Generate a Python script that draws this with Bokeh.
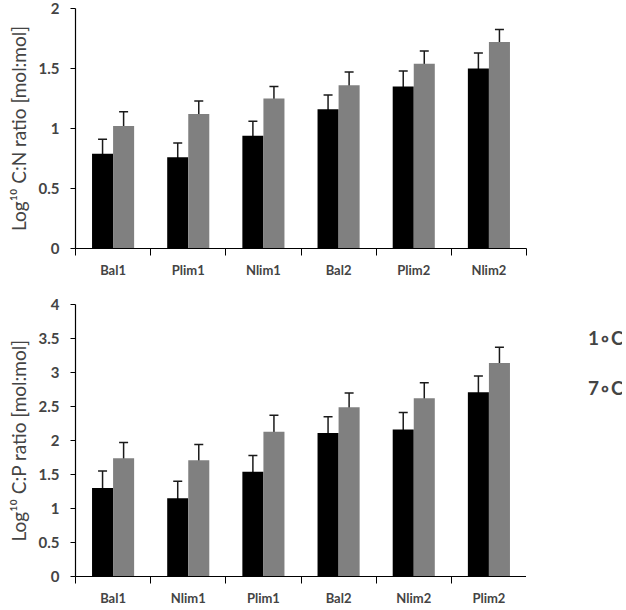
import numpy as np
from bokeh.plotting import figure
from bokeh.models import (ColumnDataSource, Range1d, FixedTicker, SingleIntervalTicker,
                          CustomJSTickFormatter, Whisker, TeeHead, Legend, LegendItem)
from bokeh.layouts import column, row
from bokeh.embed import file_html
from bokeh.resources import INLINE

# ---- data ----
cn_groups = ["Bal1", "Plim1", "Nlim1", "Bal2", "Plim2", "Nlim2"]
cn_1c = [0.79, 0.76, 0.94, 1.16, 1.35, 1.50]
cn_7c = [1.02, 1.12, 1.25, 1.36, 1.54, 1.72]
cn_err_1c = [0.12, 0.12, 0.12, 0.12, 0.13, 0.13]
cn_err_7c = [0.12, 0.11, 0.10, 0.11, 0.105, 0.105]

cp_groups = ["Bal1", "Nlim1", "Plim1", "Bal2", "Nlim2", "Plim2"]
cp_1c = [1.30, 1.15, 1.54, 2.11, 2.16, 2.71]
cp_7c = [1.74, 1.71, 2.13, 2.49, 2.62, 3.14]
cp_err_1c = [0.25, 0.25, 0.24, 0.24, 0.25, 0.24]
cp_err_7c = [0.23, 0.23, 0.24, 0.21, 0.23, 0.23]

series_labels = ["1\u2218C", "7\u2218C"]

FONT = "Lato"
C1 = "#000000"
C7 = "#808080"
ERR = "#1a1a1a"


def make_panel(groups, v1, v7, e1, e7, ymax, ylabel, width, height, right_b, top_b, bottom_b):
    n = len(groups)
    pos = np.arange(n) + 0.5
    v1 = np.array(v1); v7 = np.array(v7); e1 = np.array(e1); e7 = np.array(e7)
    src = ColumnDataSource(dict(
        x1=pos - 0.14, x7=pos + 0.14, v1=v1, v7=v7,
        lo1=v1 - e1, hi1=v1 + e1, lo7=v7 - e7, hi7=v7 + e7))

    p = figure(width=width, height=height, x_range=Range1d(0, n), y_range=Range1d(0, ymax),
               output_backend="svg", toolbar_location=None,
               min_border_left=75, min_border_right=right_b,
               min_border_top=top_b, min_border_bottom=bottom_b)
    p.outline_line_color = None
    p.xgrid.visible = False
    p.ygrid.visible = False

    p.vbar(x="x1", top="v1", width=0.28, bottom=0, source=src, fill_color=C1, line_color=None)
    p.vbar(x="x7", top="v7", width=0.28, bottom=0, source=src, fill_color=C7, line_color=None)

    for xb, lo, hi in (("x1", "lo1", "hi1"), ("x7", "lo7", "hi7")):
        p.add_layout(Whisker(base=xb, lower=lo, upper=hi, source=src,
                             line_color=ERR, line_width=1.5,
                             upper_head=TeeHead(size=9, line_color=ERR, line_width=1.5),
                             lower_head=TeeHead(size=9, line_color=ERR, line_width=1.5)))

    xa = p.xaxis[0]
    xa.ticker = FixedTicker(ticks=list(pos), minor_ticks=list(range(n + 1)))
    xa.formatter = CustomJSTickFormatter(args=dict(labels=groups),
                                         code="const i = Math.round(tick - 0.5); return labels[i] || '';")
    xa.major_tick_out = 0
    xa.major_tick_in = 0
    xa.major_tick_line_color = None
    xa.minor_tick_line_color = "black"
    xa.minor_tick_out = 7
    xa.minor_tick_in = 0
    xa.axis_line_color = "black"
    xa.axis_line_width = 1.2
    xa.major_label_standoff = 6
    xa.major_label_text_font = FONT
    xa.major_label_text_font_style = "bold"
    xa.major_label_text_font_size = "13px"

    ya = p.yaxis[0]
    ya.ticker = SingleIntervalTicker(interval=0.5, num_minor_ticks=0)
    ya.formatter = CustomJSTickFormatter(code="return String(+tick.toFixed(2));")
    ya.minor_tick_line_color = None
    ya.major_tick_out = 5
    ya.major_tick_in = 0
    ya.axis_line_color = "black"
    ya.axis_line_width = 1.2
    ya.major_label_standoff = 11
    ya.major_label_text_font = FONT
    ya.major_label_text_font_style = "bold"
    ya.major_label_text_font_size = "15px"
    ya.axis_label = ylabel
    ya.axis_label_text_font = FONT
    ya.axis_label_text_font_style = "normal"
    ya.axis_label_text_font_size = "19px"
    ya.axis_label_standoff = 6
    return p


top = make_panel(cn_groups, cn_1c, cn_7c, cn_err_1c, cn_err_7c, 2,
                 "Log\u00b9\u2070 C:N ratio [mol:mol]", 622, 290, 96, 8, 42)
bottom = make_panel(cp_groups, cp_1c, cp_7c, cp_err_1c, cp_err_7c, 4,
                    "Log\u00b9\u2070 C:P ratio [mol:mol]", 526, 318, 0, 14, 28)

# legend in its own small figure, to the right of the lower chart
leg = figure(width=96, height=318, x_range=Range1d(0, 1), y_range=Range1d(0, 1),
             output_backend="svg", toolbar_location=None,
             x_axis_location=None, y_axis_location=None,
             min_border_left=0, min_border_right=0, min_border_top=6, min_border_bottom=0)
leg.outline_line_color = None
for g in leg.grid:
    g.visible = False
k1 = leg.vbar(x=[], top=[], width=0.5, fill_color=C1, line_color=None)
k7 = leg.vbar(x=[], top=[], width=0.5, fill_color=C7, line_color=None)
lg = Legend(items=[LegendItem(label=series_labels[0], renderers=[k1]),
                   LegendItem(label=series_labels[1], renderers=[k7])],
            location="top_left", orientation="vertical",
            margin=8, padding=0, spacing=0,
            glyph_width=50, glyph_height=50, label_standoff=4,
            label_text_font=FONT, label_text_font_style="bold",
            label_text_font_size="19px",
            border_line_color=None, background_fill_alpha=0)
leg.add_layout(lg)

layout = column(top, row(bottom, leg))
open("out.html", "w").write(file_html(layout, INLINE))
